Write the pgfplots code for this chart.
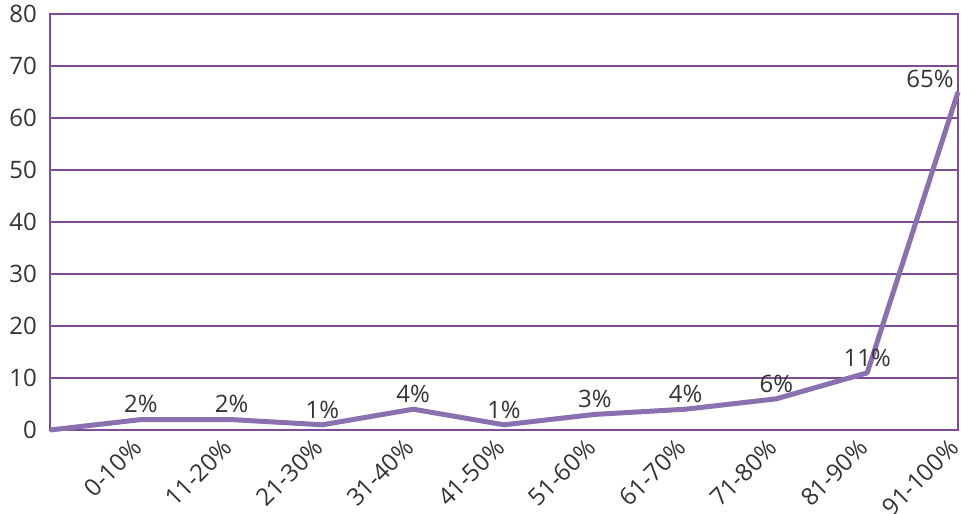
\documentclass[border=0pt]{standalone}
\usepackage{fontspec}
\setmainfont{Open Sans}
\usepackage{pgfplots}
\pgfplotsset{compat=1.18}
\usetikzlibrary{calc}
\definecolor{gridpurple}{HTML}{7E4B96}
\definecolor{linepurple}{HTML}{8A70AE}
\definecolor{txt}{HTML}{333333}
\begin{document}
\begin{tikzpicture}
\begin{axis}[
scale only axis,
width=454pt, height=208pt,
xmin=0, xmax=10,
ymin=0, ymax=80,
ytick={0,10,...,80},
xtick={1,...,10},
xticklabels={0-10\%,11-20\%,21-30\%,31-40\%,41-50\%,51-60\%,61-70\%,71-80\%,81-90\%,91-100\%},
x tick label style={xshift=-5pt, yshift=-2pt, rotate=45, anchor=north east, font=\fontsize{12}{14}\selectfont, text=txt, inner sep=1pt},
y tick label style={font=\fontsize{12}{14}\selectfont, text=txt, xshift=-3pt},
/pgf/number format/assume math mode=true,
major tick length=0pt,
ymajorgrids,
grid style={gridpurple, line width=0.7pt},
axis line style={gridpurple, line width=0.7pt},
clip=false,
]
\addplot[linepurple, line width=2.5pt, line join=round] coordinates {
(0,0) (1,2) (2,2) (3,1) (4,4) (5,1) (6,3) (7,4) (8,6) (9,11) (10,65)
};
\addplot[draw=none, nodes near coords={\pgfmathprintnumber{\pgfplotspointmeta}\%},
  nodes near coords style={font=\fontsize{12}{14}\selectfont, text=txt, anchor=south, inner sep=3pt}] coordinates {
(1,2) (2,2) (3,1) (4,4) (5,1) (6,3) (7,4) (8,6) (9,11)
};
\addplot[draw=none, nodes near coords={\pgfmathprintnumber{\pgfplotspointmeta}\%},
  nodes near coords style={font=\fontsize{12}{14}\selectfont, text=txt, anchor=south east, inner sep=1pt, xshift=-1pt, yshift=1pt}] coordinates {
(10,65)
};
\end{axis}
\pgfresetboundingbox
\path[use as bounding box] ($(current axis.south west)+(-25pt,-41.5pt)$) rectangle ($(current axis.north east)+(1.5pt,7pt)$);
\end{tikzpicture}
\end{document}
